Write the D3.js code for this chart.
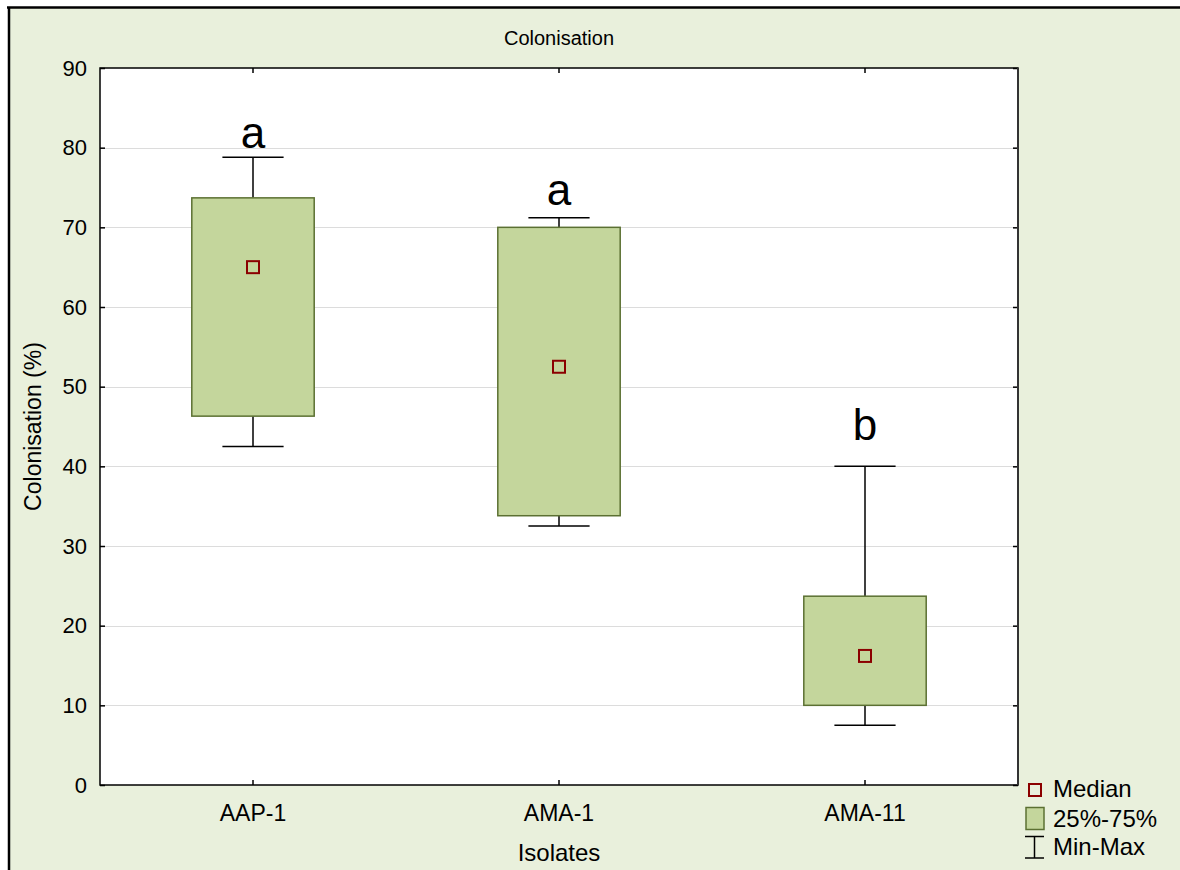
<!DOCTYPE html>
<html><head><meta charset="utf-8">
<script src="https://cdn.jsdelivr.net/npm/d3@7/dist/d3.min.js"></script>
<style>body{margin:0;background:#fff}svg{display:block}text{font-family:"Liberation Sans",Arial,sans-serif}</style>
</head><body><svg id="c" width="1180" height="870"></svg>
<script>
const categories = ["AAP-1", "AMA-1", "AMA-11"];
const q1 = [46.3, 33.8, 10.0];
const q3 = [73.7, 70.0, 23.7];
const median = [65.0, 52.5, 16.2];
const minV = [42.5, 32.5, 7.5];
const maxV = [78.8, 71.2, 40.0];
const letters = ["a", "a", "b"];
const letterY = [80.0, 72.8, 43.3];
const yTicks = [0, 10, 20, 30, 40, 50, 60, 70, 80, 90];

const svg = d3.select("#c");
const W = 1180, H = 870;
const m = {l: 100, t: 68, r: 1018, b: 785};

// background & frame
svg.append("rect").attr("x", 8).attr("y", 7).attr("width", W - 8).attr("height", H - 7).attr("fill", "#E9F0DC");
svg.append("line").attr("x1", 7).attr("x2", W).attr("y1", 7.5).attr("y2", 7.5).attr("stroke", "#000").attr("stroke-width", 2.5);
svg.append("line").attr("x1", 9).attr("x2", 9).attr("y1", 7).attr("y2", H).attr("stroke", "#000").attr("stroke-width", 2.5);

const x = d3.scaleBand().domain(categories).range([m.l, m.r]);
const y = d3.scaleLinear().domain([0, 90]).range([m.b, m.t]);

svg.append("rect").attr("x", m.l).attr("y", m.t).attr("width", m.r - m.l).attr("height", m.b - m.t).attr("fill", "#fff");

// grid
svg.append("g").selectAll("line").data(yTicks.filter(d => d > 0 && d < 90)).join("line")
  .attr("x1", m.l).attr("x2", m.r).attr("y1", d => Math.round(y(d)) + 0.5).attr("y2", d => Math.round(y(d)) + 0.5)
  .attr("stroke", "#dcdcdc").attr("stroke-width", 1);

// axes
const gl = svg.append("g").attr("transform", `translate(${m.l},0)`)
  .call(d3.axisLeft(y).tickValues(yTicks).tickSizeInner(-5).tickSizeOuter(0).tickPadding(13));
const gr = svg.append("g").attr("transform", `translate(${m.r},0)`)
  .call(d3.axisRight(y).tickValues(yTicks).tickSizeInner(-5).tickSizeOuter(0).tickFormat(""));
const gb = svg.append("g").attr("transform", `translate(0,${m.b})`)
  .call(d3.axisBottom(x).tickSizeInner(-5).tickSizeOuter(0).tickPadding(20));
const gt = svg.append("g").attr("transform", `translate(0,${m.t})`)
  .call(d3.axisTop(x).tickSizeInner(-5).tickSizeOuter(0).tickFormat(""));
[gl, gr, gb, gt].forEach(g => {
  g.select(".domain").remove();
  g.selectAll("line").attr("stroke", "#000").attr("stroke-width", 1.5);
  g.selectAll("text").attr("fill", "#000").attr("font-family", '"Liberation Sans",Arial,sans-serif');
});
gl.selectAll("text").attr("font-size", 22);
gb.selectAll("text").attr("font-size", 23).attr("dy", "0.71em");

// plot frame
svg.append("rect").attr("x", m.l).attr("y", m.t).attr("width", m.r - m.l).attr("height", m.b - m.t)
  .attr("fill", "none").attr("stroke", "#000").attr("stroke-width", 1.5);
svg.append("line").attr("x1", m.r).attr("x2", m.r).attr("y1", m.t).attr("y2", m.b).attr("stroke", "#333").attr("stroke-width", 2);

// boxes
const data = categories.map((c, i) => ({c, q1: q1[i], q3: q3[i], med: median[i], mn: minV[i], mx: maxV[i], lt: letters[i], ly: letterY[i]}));
const bw = x.bandwidth() * 0.4;
const cw = bw * 0.5;
const g = svg.append("g");
const cx = d => x(d.c) + x.bandwidth() / 2;
g.selectAll(".wu").data(data).join("line").attr("x1", cx).attr("x2", cx)
  .attr("y1", d => y(d.mx)).attr("y2", d => y(d.q3)).attr("stroke", "#000").attr("stroke-width", 1.5);
g.selectAll(".wl").data(data).join("line").attr("x1", cx).attr("x2", cx)
  .attr("y1", d => y(d.q1)).attr("y2", d => y(d.mn)).attr("stroke", "#000").attr("stroke-width", 1.5);
g.selectAll(".cu").data(data).join("line").attr("x1", d => cx(d) - cw / 2).attr("x2", d => cx(d) + cw / 2)
  .attr("y1", d => y(d.mx)).attr("y2", d => y(d.mx)).attr("stroke", "#000").attr("stroke-width", 1.5);
g.selectAll(".cl").data(data).join("line").attr("x1", d => cx(d) - cw / 2).attr("x2", d => cx(d) + cw / 2)
  .attr("y1", d => y(d.mn)).attr("y2", d => y(d.mn)).attr("stroke", "#000").attr("stroke-width", 1.5);
g.selectAll(".box").data(data).join("rect")
  .attr("x", d => cx(d) - bw / 2).attr("width", bw)
  .attr("y", d => y(d.q3)).attr("height", d => y(d.q1) - y(d.q3))
  .attr("fill", "#C4D69C").attr("stroke", "#5B7032").attr("stroke-width", 1.5);
g.selectAll(".med").data(data).join("rect")
  .attr("x", d => cx(d) - 6).attr("y", d => y(d.med) - 6).attr("width", 12).attr("height", 12)
  .attr("fill", "none").attr("stroke", "#8B0000").attr("stroke-width", 2);
g.selectAll(".lt").data(data).join("text")
  .attr("x", cx).attr("y", d => y(d.ly)).attr("text-anchor", "middle")
  .attr("font-size", 44).text(d => d.lt);

// titles
svg.append("text").attr("x", (m.l + m.r) / 2).attr("y", 45).attr("text-anchor", "middle").attr("font-size", 20).text("Colonisation");
svg.append("text").attr("x", (m.l + m.r) / 2).attr("y", 861).attr("text-anchor", "middle").attr("font-size", 24).text("Isolates");
svg.append("text").attr("transform", `translate(41,${(m.t + m.b) / 2}) rotate(-90)`).attr("text-anchor", "middle").attr("font-size", 23).text("Colonisation (%)");

// legend
const lg = svg.append("g");
lg.append("rect").attr("x", 1029).attr("y", 784).attr("width", 12).attr("height", 12).attr("fill", "none").attr("stroke", "#8B0000").attr("stroke-width", 2);
lg.append("text").attr("x", 1053).attr("y", 797).attr("font-size", 24).text("Median");
lg.append("rect").attr("x", 1026).attr("y", 807.5).attr("width", 18).attr("height", 22).attr("fill", "#C4D69C").attr("stroke", "#5B7032").attr("stroke-width", 1.5);
lg.append("text").attr("x", 1053).attr("y", 827).attr("font-size", 24).text("25%-75%");
lg.append("line").attr("x1", 1025).attr("x2", 1044).attr("y1", 836.5).attr("y2", 836.5).attr("stroke", "#000").attr("stroke-width", 1.5);
lg.append("line").attr("x1", 1025).attr("x2", 1044).attr("y1", 858).attr("y2", 858).attr("stroke", "#000").attr("stroke-width", 1.5);
lg.append("line").attr("x1", 1034.5).attr("x2", 1034.5).attr("y1", 836.5).attr("y2", 858).attr("stroke", "#000").attr("stroke-width", 1.5);
lg.append("text").attr("x", 1053).attr("y", 855).attr("font-size", 24).text("Min-Max");
</script></body></html>
